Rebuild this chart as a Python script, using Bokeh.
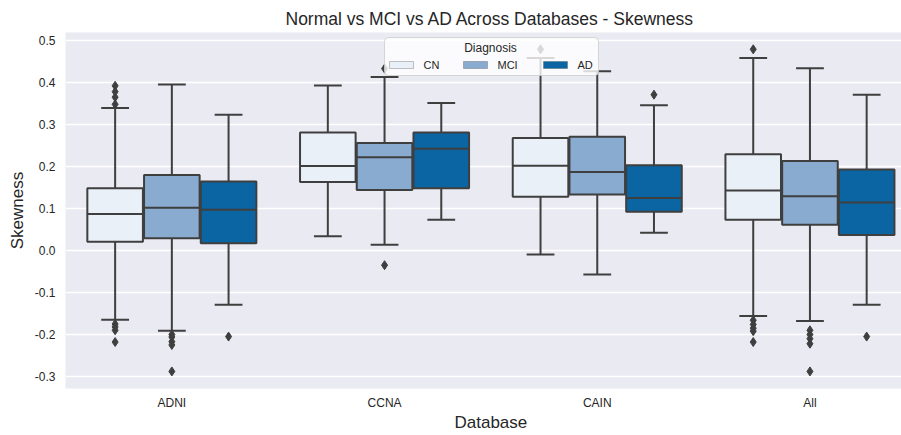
from bokeh.plotting import figure
from bokeh.models import (ColumnDataSource, Range1d, FixedTicker, PrintfTickFormatter,
                          Label, BoxAnnotation, Title)
from bokeh.embed import file_html
from bokeh.resources import INLINE

# ---------------- data ----------------
databases = ["ADNI", "CCNA", "CAIN", "All"]
diagnoses = ["CN", "MCI", "AD"]
box_colors = ["#eaf0f8", "#89abd0", "#0b65a2"]

# one row per database, columns = CN, MCI, AD
q1_vals = [[0.021, 0.029, 0.017],
           [0.163, 0.144, 0.148],
           [0.128, 0.133, 0.092],
           [0.073, 0.061, 0.037]]
median_vals = [[0.087, 0.102, 0.097],
               [0.201, 0.222, 0.242],
               [0.202, 0.187, 0.125],
               [0.143, 0.129, 0.114]]
q3_vals = [[0.148, 0.180, 0.164],
           [0.281, 0.256, 0.281],
           [0.268, 0.271, 0.203],
           [0.229, 0.213, 0.193]]
whisker_low = [[-0.165, -0.191, -0.129],
               [0.034, 0.0135, 0.073],
               [-0.0095, -0.057, 0.042],
               [-0.156, -0.168, -0.129]]
whisker_high = [[0.339, 0.395, 0.323],
                [0.393, 0.413, 0.351],
                [0.458, 0.427, 0.346],
                [0.458, 0.434, 0.371]]

outlier_db = ["ADNI"] * 8 + ["ADNI"] * 5 + ["ADNI"] + ["CCNA"] * 2 + ["CAIN"] * 2 + \
             ["All"] * 6 + ["All"] * 5 + ["All"]
outlier_dx = ["CN"] * 8 + ["MCI"] * 5 + ["AD"] + ["MCI"] * 2 + ["CN", "AD"] + \
             ["CN"] * 6 + ["MCI"] * 5 + ["AD"]
outlier_val = [0.392, 0.378, 0.365, 0.348, -0.175, -0.182, -0.19, -0.218,
               -0.2, -0.206, -0.217, -0.225, -0.288,
               -0.205,
               -0.035, 0.433,
               0.479, 0.371,
               0.479, -0.166, -0.176, -0.185, -0.192, -0.218,
               -0.19, -0.2, -0.21, -0.222, -0.288,
               -0.205]

y_ticks = [-0.3, -0.2, -0.1, 0.0, 0.1, 0.2, 0.3, 0.4, 0.5]

# ---------------- layout helpers ----------------
GROUP_W = 0.8
HUE_W = GROUP_W / len(diagnoses)
BOX_W = HUE_W * 0.98
LINE_C = "#3f3f3f"
FONT = "Liberation Sans"
TXT_C = "#262626"

FL, FR, FT, FB = 65, 901, 32, 388   # frame in pixels
PX_PER_UNIT = 212.7
X0 = -0.5
X1 = X0 + (FR - FL) / PX_PER_UNIT
Y0, Y1 = -0.3286, 0.519


def px2x(px):
    return X0 + (px - FL) * (X1 - X0) / (FR - FL)


def px2y(py):
    return Y1 - (py - FT) * (Y1 - Y0) / (FB - FT)


def dodge(db, dx):
    return databases.index(db) + (diagnoses.index(dx) - 1) * HUE_W


rows = dict(x=[], q1=[], med=[], q3=[], lo=[], hi=[], color=[])
for i, db in enumerate(databases):
    for j, dx in enumerate(diagnoses):
        rows["x"].append(dodge(db, dx))
        rows["q1"].append(q1_vals[i][j])
        rows["med"].append(median_vals[i][j])
        rows["q3"].append(q3_vals[i][j])
        rows["lo"].append(whisker_low[i][j])
        rows["hi"].append(whisker_high[i][j])
        rows["color"].append(box_colors[j])
rows["xl"] = [x - BOX_W / 2 for x in rows["x"]]
rows["xr"] = [x + BOX_W / 2 for x in rows["x"]]
rows["cl"] = [x - BOX_W / 4 for x in rows["x"]]
rows["cr"] = [x + BOX_W / 4 for x in rows["x"]]
src = ColumnDataSource(rows)

out_src = ColumnDataSource(dict(
    x=[dodge(d, g) for d, g in zip(outlier_db, outlier_dx)], y=outlier_val))

# ---------------- figure ----------------
p = figure(frame_width=FR - FL, frame_height=FB - FT, title=None,
           x_range=Range1d(X0, X1), y_range=Range1d(Y0, Y1),
           output_backend="svg", toolbar_location=None,
           min_border_left=FL, min_border_right=0,
           min_border_top=FT, min_border_bottom=40,
           background_fill_color="#eaeaf2", border_fill_color="white",
           outline_line_color=None)

p.ygrid.grid_line_color = "white"
p.ygrid.grid_line_width = 1.3
p.xgrid.grid_line_color = None

# whiskers
p.segment(x0="x", x1="x", y0="q3", y1="hi", source=src, line_color=LINE_C, line_width=2)
p.segment(x0="x", x1="x", y0="lo", y1="q1", source=src, line_color=LINE_C, line_width=2)
# caps
p.segment(x0="cl", x1="cr", y0="hi", y1="hi", source=src, line_color=LINE_C, line_width=2)
p.segment(x0="cl", x1="cr", y0="lo", y1="lo", source=src, line_color=LINE_C, line_width=2)
# boxes
p.vbar(x="x", width=BOX_W, bottom="q1", top="q3", source=src,
       fill_color="color", line_color=LINE_C, line_width=2)
# medians
p.segment(x0="xl", x1="xr", y0="med", y1="med", source=src, line_color=LINE_C, line_width=2)
# outliers
p.scatter(x="x", y="y", source=out_src, marker="diamond", size=9,
          fill_color=LINE_C, line_color=LINE_C)

# axes
p.xaxis.ticker = FixedTicker(ticks=list(range(len(databases))))
p.xaxis.major_label_overrides = {i: d for i, d in enumerate(databases)}
p.yaxis.ticker = FixedTicker(ticks=y_ticks)
p.yaxis.formatter = PrintfTickFormatter(format="%.1f")
for ax in (p.xaxis, p.yaxis):
    ax.axis_line_color = None
    ax.major_tick_line_color = None
    ax.minor_tick_line_color = None
    ax.major_tick_out = 0
    ax.major_tick_in = 0
    ax.major_label_text_font = FONT
    ax.major_label_text_font_size = "12px"
    ax.major_label_text_color = TXT_C
p.xaxis.major_label_standoff = 7
p.yaxis.major_label_standoff = 10

p.yaxis.axis_label = "Skewness"
p.yaxis.axis_label_text_font = FONT
p.yaxis.axis_label_text_font_size = "17px"
p.yaxis.axis_label_text_font_style = "normal"
p.yaxis.axis_label_text_color = TXT_C
p.yaxis.axis_label_standoff = 5

# title above, x label below (left aligned with offsets so they centre on the full axes)
p.add_layout(Title(text="Normal vs MCI vs AD Across Databases - Skewness", align="left",
                   offset=220, text_font=FONT, text_font_size="17.5px",
                   text_font_style="normal", text_color=TXT_C, standoff=7), "above")
p.add_layout(Title(text="Database", align="left", offset=389, text_font=FONT,
                   text_font_size="17px", text_font_style="normal", text_color=TXT_C,
                   standoff=0, vertical_align="top"), "below")

# legend (drawn by hand to match matplotlib's centred title)
p.add_layout(BoxAnnotation(left=px2x(384), right=px2x(598), top=px2y(37), bottom=px2y(75),
                           fill_color="white", fill_alpha=0.8, line_color="#cccccc",
                           line_alpha=0.8, line_width=1, border_radius=4))
p.add_layout(Label(x=px2x(490), y=px2y(47), text="Diagnosis", text_align="center",
                   text_baseline="middle", text_font=FONT, text_font_size="12px",
                   text_color=TXT_C))
patch_left = [389, 463, 543]
for k, dx in enumerate(diagnoses):
    pl = patch_left[k]
    p.add_layout(BoxAnnotation(left=px2x(pl), right=px2x(pl + 24), top=px2y(61), bottom=px2y(68),
                               fill_color=box_colors[k], fill_alpha=1.0, line_color=LINE_C,
                               line_width=1))
    p.add_layout(Label(x=px2x(pl + 34), y=px2y(64.5), text=dx, text_align="left",
                       text_baseline="middle", text_font=FONT, text_font_size="11px",
                       text_color=TXT_C))

open("out.html", "w").write(file_html(p, INLINE))
